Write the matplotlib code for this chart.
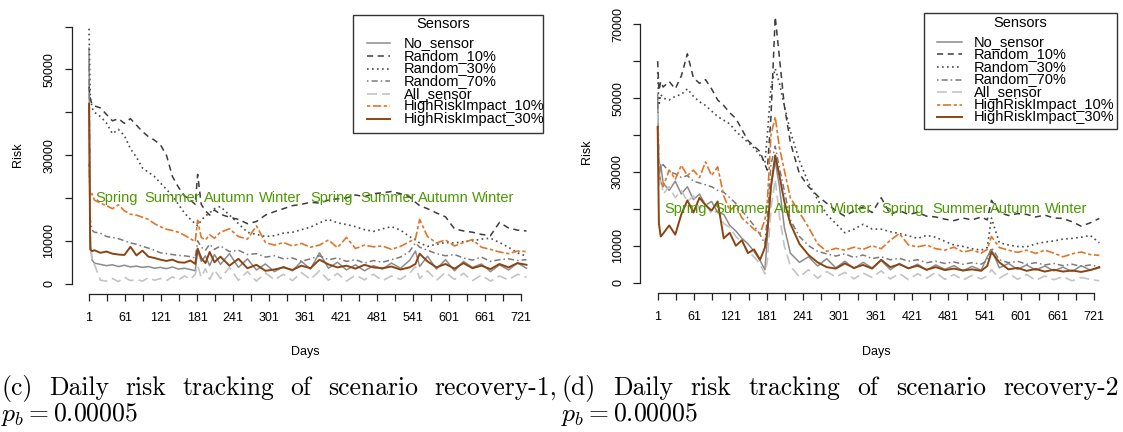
import matplotlib
matplotlib.use("Agg")
import matplotlib.pyplot as plt
from matplotlib.patches import Rectangle
from matplotlib.lines import Line2D

plt.rcParams['font.family'] = ['Liberation Sans', 'DejaVu Sans']
plt.rcParams['mathtext.fontset'] = 'cm'

W, H = 1123, 432

# days sampled from the plot
days = [1, 3, 6, 10, 20, 30, 40, 50, 60, 70, 80, 90, 100, 110, 120, 130, 140, 150, 160, 170,
        178, 182, 188, 195, 202, 210, 220, 235, 250, 265, 280, 295, 310, 325, 340, 355, 370, 385,
        400, 415, 430, 445, 460, 475, 490, 505, 520, 535, 545, 552, 565, 580, 595, 610, 625, 640,
        655, 670, 685, 700, 715, 730]

sensor_names = ["No_sensor", "Random_10%", "Random_30%", "Random_70%", "All_sensor",
                "HighRiskImpact_10%", "HighRiskImpact_30%"]

seasons = ["Spring", "Summer", "Autumn", "Winter", "Spring", "Summer", "Autumn", "Winter"]
season_days = [47, 140, 235, 320, 406, 500, 592, 675]

# ---- (c) recovery-1
c_no_sensor = [55000, 10000, 5500, 4800, 4500, 4200, 4400, 4000, 4300, 3900,
               4100, 3800, 4000, 3600, 3800, 3500, 3900, 3400, 3600, 3300,
               3000, 7800, 5200, 6500, 4200, 6800, 4500, 7000, 3800, 5800,
               3200, 4600, 2800, 4000, 3000, 5200, 3400, 7200, 3600, 5000,
               3200, 4400, 3000, 4200, 3400, 4800, 3600, 5400, 7600, 4000,
               6400, 3400, 5600, 3000, 5200, 3800, 4600, 2800, 4400, 3200, 4800, 3600]
c_random10 = [46000, 43000, 42000, 41500, 41000, 39500, 38000, 38500, 37400, 38500,
              37000, 35500, 34300, 33500, 32400, 30000, 25000, 22500, 20500, 19500,
              18500, 25500, 18500, 17000, 16000, 17200, 16200, 15500, 15000, 14000,
              14500, 16000, 16800, 17500, 18200, 18500, 19000, 18800, 19500, 19800,
              20000, 20700, 20300, 21000, 21200, 21500, 21000, 20300, 19000, 18200,
              17500, 16500, 15600, 12800, 12300, 12000, 11500, 11200, 14300, 13000, 12500, 12300]
c_random30 = [59500, 44000, 41000, 40000, 39000, 37500, 35000, 36000, 34500, 31500,
              29500, 27000, 26000, 25000, 23500, 22000, 20500, 18500, 16500, 15000,
              14000, 13500, 14800, 15800, 16500, 17500, 18000, 16000, 14000, 12000,
              11500, 11000, 11200, 11800, 12000, 12600, 13200, 14200, 15000, 14200,
              13800, 13300, 12600, 12200, 12800, 13300, 12500, 11000, 10200, 9500,
              8700, 9200, 9600, 9500, 9800, 10000, 10400, 10600, 9600, 8500, 7200, 6400]
c_random70 = [52000, 15000, 12500, 12000, 11800, 11000, 10800, 10500, 10000, 9500,
              9200, 8700, 8300, 7800, 7200, 7000, 6800, 6600, 6500, 6300,
              6000, 10000, 8500, 7800, 9200, 8000, 8800, 7500, 7800, 6800,
              7000, 6200, 6500, 5800, 6000, 5200, 5800, 6500, 5600, 6000,
              5200, 5600, 4800, 5400, 5000, 5600, 6200, 7500, 9500, 8500,
              7800, 7000, 6500, 6800, 6000, 5500, 6200, 5200, 5600, 5800, 5400, 5600]
c_all_sensor = [36000, 12000, 5000, 4500, 800, 600, 1200, 500, 1500, 700,
                1000, 600, 1400, 800, 1200, 700, 1600, 900, 1800, 1000,
                2200, 4200, 1500, 3500, 1000, 3200, 1200, 3800, 800, 2800,
                600, 2500, 900, 2200, 700, 2600, 1000, 3000, 800, 2400,
                600, 2000, 900, 2200, 700, 1800, 1000, 2400, 4000, 1200,
                3000, 800, 2600, 1000, 2400, 700, 2000, 600, 1800, 900, 2200, 1500]
c_hri10 = [28000, 20500, 21000, 19500, 18800, 18200, 17500, 18400, 17000, 16200,
           16000, 15500, 15000, 14000, 13300, 12700, 12400, 12000, 11300, 10500,
           9800, 14800, 10800, 10200, 11400, 10600, 12000, 12800, 11000, 10400,
           13500, 9600, 9000, 9600, 8800, 9400, 8500, 9000, 10200, 8400,
           10800, 8200, 9000, 8600, 8800, 8000, 8700, 9800, 10500, 15000,
           11000, 9500, 10200, 8800, 9600, 10300, 8500, 8000, 7400, 7000, 7600, 7500]
c_hri30 = [41900, 8000, 7600, 7800, 7200, 7500, 7000, 6800, 6700, 8600,
           6600, 7700, 6300, 6000, 5600, 5300, 5600, 5000, 4900, 5400,
           4600, 8200, 6000, 4800, 7400, 5000, 6300, 4200, 5800, 3600,
           4400, 3000, 3300, 3800, 3200, 4200, 3600, 5600, 4500, 3800,
           4200, 3500, 4400, 3800, 3600, 4000, 3300, 3800, 4600, 7000,
           5200, 3800, 4600, 3500, 4800, 3600, 4200, 3400, 4600, 3800, 4800, 4400]

# ---- (d) recovery-2
d_no_sensor = [51000, 28000, 32000, 27000, 25000, 27500, 24000, 26000, 22500, 24000,
               21000, 22000, 19000, 18500, 15500, 14000, 12000, 10500, 8500, 6000,
               3500, 12000, 26000, 33000, 26000, 15000, 8000, 5500, 7000, 4500,
               6500, 4000, 5800, 3800, 5500, 4000, 6000, 3500, 5200, 3800,
               5000, 3400, 4800, 3600, 4600, 3200, 4400, 3400, 7000, 9000,
               4000, 5200, 3600, 4800, 3400, 4500, 3200, 4200, 3000, 4600, 3400, 4000]
d_random10 = [60000, 52000, 54500, 53000, 54500, 52500, 56000, 62000, 55500, 54000,
              55000, 52500, 49500, 48000, 46000, 44500, 41500, 38500, 37000, 35500,
              32000, 30500, 45000, 72000, 61000, 48000, 38000, 29500, 26000, 23500,
              21500, 19500, 18000, 19500, 20500, 19000, 23000, 18500, 19500, 18500,
              19000, 18000, 17800, 17200, 16800, 17500, 17000, 17800, 17000, 22300,
              19000, 18200, 18700, 18500, 17800, 18300, 17500, 17400, 16500, 15300, 16200, 17400]
d_random30 = [57000, 48000, 51000, 50000, 49500, 50500, 51000, 52500, 50500, 49000,
              48000, 46500, 45000, 44000, 43000, 41000, 39500, 38000, 36500, 34500,
              32500, 40000, 53000, 58000, 54000, 48000, 41000, 33000, 27000, 22500,
              18500, 16000, 13500, 14500, 15800, 14500, 14500, 13800, 13300, 12700,
              12000, 12800, 12300, 11200, 10200, 9800, 9200, 8800, 9500, 17500,
              10800, 10200, 9800, 9700, 10500, 11000, 11300, 11800, 12000, 12300, 12800, 10800]
d_random70 = [50000, 33000, 31000, 32000, 30000, 29500, 28500, 29000, 27500, 27000,
              26500, 26000, 25000, 24500, 23000, 21500, 19500, 17500, 15500, 13000,
              10500, 18000, 32000, 37000, 31000, 25000, 17000, 12500, 10000, 8500,
              7800, 7200, 7800, 6800, 7500, 6500, 7000, 6200, 6600, 5800,
              6200, 5400, 5800, 5200, 5600, 5000, 5400, 5000, 6000, 9500,
              6200, 5400, 5800, 5000, 5400, 4800, 5200, 4600, 5000, 4400, 4800, 4300]
d_all_sensor = [46000, 26000, 29000, 24000, 26000, 23000, 25000, 22000, 23500, 20000,
                21500, 18500, 19500, 16000, 15000, 12500, 11000, 8500, 7000, 5000,
                2400, 6000, 20000, 28000, 18000, 10000, 4500, 1500, 3500, 1200,
                3000, 1500, 2800, 1000, 2600, 1400, 3200, 1000, 2500, 800,
                2400, 1200, 2800, 900, 2200, 700, 2000, 1000, 1800, 3500,
                1200, 2600, 900, 2200, 600, 1800, 800, 1600, 500, 1400, 900, 500]
d_hri10 = [42200, 29600, 27500, 26000, 30500, 28000, 31800, 29000, 30500, 28500,
           32700, 29000, 31400, 23500, 19500, 21000, 17500, 16000, 14500, 13300,
           17000, 22000, 40000, 44900, 36500, 30500, 23000, 19000, 15000, 10500,
           8500, 9300, 8800, 9600, 9000, 10000, 9200, 11500, 13300, 10200,
           9700, 10200, 9200, 8800, 9600, 8300, 8800, 8000, 9000, 12500,
           9500, 8800, 8200, 8800, 7900, 8800, 8000, 7000, 7800, 8300, 7600, 7400]
d_hri30 = [42200, 16000, 12500, 13300, 15500, 13000, 18500, 22300, 19000, 23000,
           21000, 19500, 22000, 12000, 13500, 10000, 11500, 8000, 9000, 6200,
           9500, 14000, 26000, 34500, 29000, 22000, 16000, 10500, 7500, 5500,
           4200, 3800, 5200, 4000, 4800, 3800, 6200, 4200, 5000, 3900,
           4600, 3500, 4200, 3400, 3800, 3300, 3600, 3200, 4500, 8300,
           5500, 3600, 4000, 3200, 3700, 3000, 3500, 3000, 3300, 2900, 3400, 4200]

styles = [
    ('#8c8c8c', '-', 1.1),
    ('#3c3c3c', (0, (4, 3)), 1.1),
    ('#4a4a4a', (0, (1, 2)), 1.2),
    ('#7a7a7a', (0, (1, 2, 4, 2)), 1.1),
    ('#c4c4c4', (0, (6, 3)), 1.2),
    ('#e0762a', (0, (2, 1.5, 5, 1.5)), 1.2),
    ('#8b4513', '-', 1.4),
]


def fx(px):
    return px / W


def fy(py):
    return 1 - py / H


fig = plt.figure(figsize=(W / 100, H / 100), dpi=100)


def draw_panel(rect, series, ylim, ymax_tick, ylabels, risk_pos, days_x, legend_box, legend_title, legend_rows, legend_line, legend_text_x):
    ax = fig.add_axes([fx(rect[0]), fy(rect[3]), fx(rect[1] - rect[0]), (rect[3] - rect[2]) / H])
    for vals, (col, ls, lw) in zip(series, styles):
        ax.plot(days, vals, color=col, linestyle=ls, linewidth=lw)
    ax.set_xlim(-28.2, 759.2)
    ax.set_ylim(*ylim)
    for s in ['top', 'right']:
        ax.spines[s].set_visible(False)
    ax.spines['left'].set_bounds(0, ymax_tick)
    ax.spines['bottom'].set_bounds(1, 721)
    for s in ['left', 'bottom']:
        ax.spines[s].set_linewidth(0.9)
        ax.spines[s].set_color('#222222')
    ax.set_xticks(list(range(1, 722, 60)))
    ax.set_xticks(list(range(31, 722, 60)), minor=True)
    ax.set_xticklabels([str(d) for d in range(1, 722, 60)])
    yt = list(range(0, ymax_tick + 1, 10000))
    ax.set_yticks(yt)
    ax.set_yticklabels(ylabels, rotation=90, va='center')
    ax.tick_params(which='both', direction='out', length=5, width=0.9, color='#222222', labelsize=9)
    ax.tick_params(axis='x', pad=8)
    ax.tick_params(axis='y', pad=6.5)
    for d, name in zip(season_days, seasons):
        ax.text(d, 20000, name, color='#4c9900', fontsize=10.5, ha='center', va='center')
    fig.text(fx(risk_pos[0]), fy(risk_pos[1]), 'Risk', rotation=90, fontsize=9, ha='center', va='center')
    fig.text(fx(days_x), fy(352), 'Days', fontsize=9, ha='center', va='center')
    # legend drawn like R's legend()
    x0, x1, y0, y1 = legend_box
    fig.add_artist(Rectangle((fx(x0), fy(y1)), fx(x1 - x0), (y1 - y0) / H, transform=fig.transFigure,
                             fill=False, edgecolor='#333333', linewidth=1.0))
    fig.text(fx(legend_title[0]), fy(legend_title[1]), 'Sensors', fontsize=10.5, ha='center', va='center')
    for i, (name, (col, ls, lw)) in enumerate(zip(sensor_names, styles)):
        yy = legend_rows[0] + i * legend_rows[1]
        fig.add_artist(Line2D([fx(legend_line[0]), fx(legend_line[1])], [fy(yy), fy(yy)], transform=fig.transFigure,
                              color=col, linestyle=ls, linewidth=lw))
        fig.text(fx(legend_text_x), fy(yy), name, fontsize=10.5, ha='left', va='center')
    return ax


draw_panel((71.5, 544, 15, 294),
           [c_no_sensor, c_random10, c_random30, c_random70, c_all_sensor, c_hri10, c_hri30],
           (-2410, 62690), 60000, ['0', '10000', '', '30000', '', '50000', ''],
           (18, 155), 305, (353, 543, 15, 132.7), (443, 24), (43.3, 12.6), (367, 390), 404)
draw_panel((640, 1117, 13.3, 293),
           [d_no_sensor, d_random10, d_random30, d_random70, d_all_sensor, d_hri10, d_hri30],
           (-2807, 72980), 70000, ['0', '10000', '', '30000', '', '50000', '', '70000'],
           (587, 152), 876, (924, 1117, 13.3, 129.3), (1020, 22.7), (41.7, 12.6), (937, 962), 974)

# justified captions in LaTeX style
renderer = fig.canvas.get_renderer()


def caption(words, x0, x1, y):
    texts = [fig.text(0, fy(y), w, family='cmr10', fontsize=18.5, va='baseline') for w in words]
    widths = [t.get_window_extent(renderer).width for t in texts]
    gap = (x1 - x0 - sum(widths)) / (len(words) - 1)
    x = x0
    for t, w in zip(texts, widths):
        t.set_x(fx(x))
        x += w + gap


caption(["(c)", "Daily", "risk", "tracking", "of", "scenario", "recovery-1,"], 1, 557, 395)
caption(["(d)", "Daily", "risk", "tracking", "of", "scenario", "recovery-2"], 561, 1119, 395)
fig.text(fx(1), fy(421), r'$p_b = 0.00005$', fontsize=18.5, va='baseline')
fig.text(fx(561), fy(421), r'$p_b = 0.00005$', fontsize=18.5, va='baseline')

fig.savefig('out.png', dpi=100)
